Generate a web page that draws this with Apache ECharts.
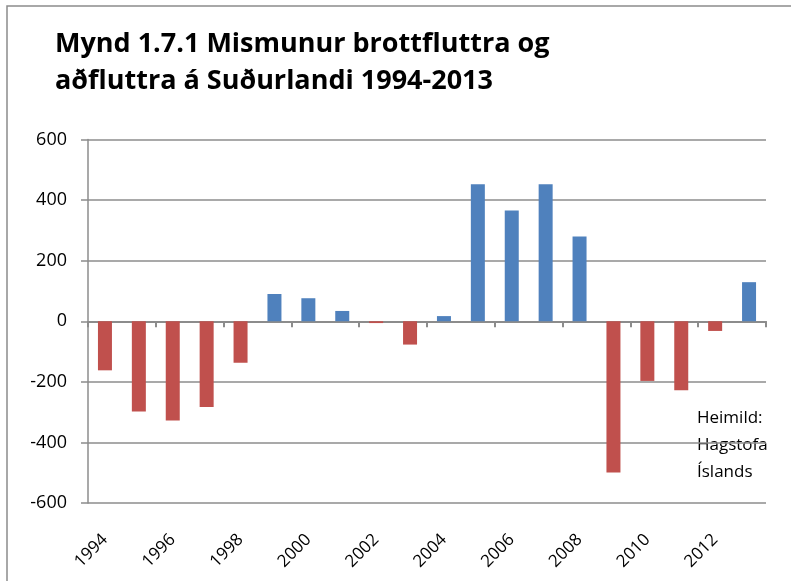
<!DOCTYPE html>
<html>
<head>
<meta charset="utf-8">
<script src="https://cdn.jsdelivr.net/npm/echarts@6/dist/echarts.min.js"></script>
<style>html,body{margin:0;padding:0;background:#fff}#c{width:791px;height:581px}</style>
</head>
<body>
<div id="c"></div>
<script>
const years = ['1994','1995','1996','1997','1998','1999','2000','2001','2002','2003','2004','2005','2006','2007','2008','2009','2010','2011','2012','2013'];
const values = [-162,-298,-328,-283,-137,90,76,34,-6,-77,17,452,366,452,280,-499,-197,-228,-32,129];
const yTicks = [-600,-400,-200,0,200,400,600];
const titleText = 'Mynd 1.7.1 Mismunur brottfluttra og\naðfluttra á Suðurlandi 1994-2013';
const sourceText = 'Heimild:\nHagstofa\nÍslands';

const blue = '#4F81BD', red = '#C0504D';
const chart = echarts.init(document.getElementById('c'), null, {renderer:'canvas'});
chart.setOption({
  animation:false,
  backgroundColor:'#fff',
  title:{text:titleText,left:50,top:21,textStyle:{fontFamily:'Open Sans',fontWeight:'bold',fontSize:27,lineHeight:37,color:'#000'}},
  graphic:[
    {type:'rect',shape:{x:7,y:6,width:900,height:700},style:{fill:'none',stroke:'#8c8c8c',lineWidth:1.5},silent:true},
    {type:'text',left:697,top:405,style:{text:sourceText,font:'17px "Open Sans"',lineHeight:27,fill:'#000'}}
  ],
  grid:{left:88,right:25,top:139.5,bottom:78,containLabel:false},
  xAxis:[
    {type:'category',data:years,position:'bottom',axisLine:{onZero:true,lineStyle:{color:'#8c8c8c',width:2}},
     axisTick:{show:true,length:6,lineStyle:{color:'#8c8c8c',width:2}},axisLabel:{show:false},splitLine:{show:false}},
    {type:'category',data:years,position:'bottom',axisLine:{show:false},axisTick:{show:false},
     axisLabel:{show:true,interval:1,rotate:45,margin:34,fontFamily:'Open Sans',fontSize:17,color:'#000'}}
  ],
  yAxis:{type:'value',min:-600,max:600,interval:200,
    axisLine:{show:true,lineStyle:{color:'#8c8c8c',width:1.5}},
    axisTick:{show:true,length:7,lineStyle:{color:'#8c8c8c',width:1.5}},
    splitLine:{show:true,lineStyle:{color:'#8c8c8c',width:1.5}},
    axisLabel:{margin:21,fontFamily:'Open Sans',fontSize:18,color:'#000'}},
  series:[{type:'bar',xAxisIndex:0,barWidth:14,
    data:values.map(v=>({value:v,itemStyle:{color:v>=0?blue:red}}))}]
});
</script>
</body>
</html>
